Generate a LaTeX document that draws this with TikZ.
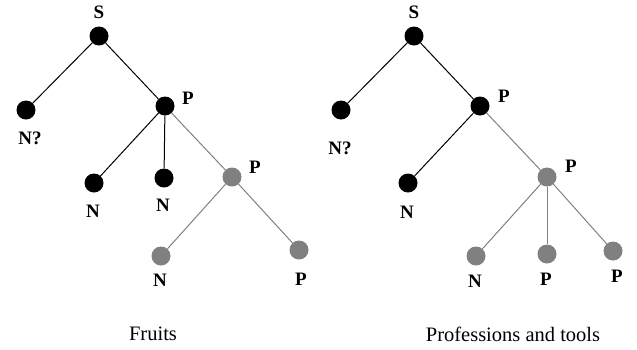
\documentclass[tikz,border=0pt]{standalone}
\usepackage{fontspec}
\setmainfont{Liberation Serif}
\begin{document}
\begin{tikzpicture}[x=1pt,y=-1pt,
    dot/.style={circle,fill=black,minimum size=19pt,inner sep=0pt},
    gdot/.style={dot,fill=gray},
    lbl/.style={font=\bfseries\fontsize{19}{22}\selectfont},
    captxt/.style={font=\fontsize{20.5}{24}\selectfont},
    bl/.style={line width=1pt},
    gl/.style={line width=1pt,draw=gray}]
    \useasboundingbox (0,0) rectangle (637,349);
    %% Fruits
    \node[dot] (fS) at (99,36) {};
    \node[dot] (fN1) at (26,110) {};
    \node[dot] (fP1) at (165,106) {};
    \node[dot] (fN2) at (94,183) {};
    \node[dot] (fN3) at (164,178) {};
    \node[gdot] (fP2) at (232,177) {};
    \node[gdot] (fN4) at (161,256) {};
    \node[gdot] (fP3) at (299,250) {};
    \draw[bl] (fS) -- (fN1);
    \draw[bl] (fS) -- (fP1);
    \draw[bl] (fP1) -- (fN2);
    \draw[bl] (fP1) -- (fN3);
    \draw[gl] (fP1) -- (fP2);
    \draw[gl] (fP2) -- (fN4);
    \draw[gl] (fP2) -- (fP3);
    \node[lbl] (fSl) at (99,12) {S};
    \node[lbl] (fN1l) at (30,138) {N?};
    \node[lbl] (fP1l) at (188,98) {P};
    \node[lbl] (fN2l) at (93,211) {N};
    \node[lbl] (fN3l) at (163,205) {N};
    \node[lbl] (fP2l) at (255,167) {P};
    \node[lbl] (fN4l) at (160,280) {N};
    \node[lbl] (fP3l) at (301,279) {P};
    \node[captxt] (fcap) at (153,334) {Fruits};
    %% Professions and tools
    \node[dot] (pS) at (414,36) {};
    \node[dot] (pN1) at (341,110) {};
    \node[dot] (pP1) at (480,106) {};
    \node[dot] (pN2) at (408,183) {};
    \node[gdot] (pP2) at (547,177) {};
    \node[gdot] (pN3) at (476,256) {};
    \node[gdot] (pP3) at (547,254) {};
    \node[gdot] (pP4) at (613,251) {};
    \draw[bl] (pS) -- (pN1);
    \draw[bl] (pS) -- (pP1);
    \draw[bl] (pP1) -- (pN2);
    \draw[gl] (pP1) -- (pP2);
    \draw[gl] (pP2) -- (pN3);
    \draw[gl] (pP2) -- (pP3);
    \draw[gl] (pP2) -- (pP4);
    \node[lbl] (pSl) at (414,12) {S};
    \node[lbl] (pN1l) at (340,148) {N?};
    \node[lbl] (pP1l) at (504,96) {P};
    \node[lbl] (pN2l) at (407,212) {N};
    \node[lbl] (pP2l) at (571,166) {P};
    \node[lbl] (pN3l) at (475,281) {N};
    \node[lbl] (pP3l) at (546,279) {P};
    \node[lbl] (pP4l) at (617,276) {P};
    \node[captxt] (pcap) at (513,334) {Professions and tools};
\end{tikzpicture}
\end{document}
